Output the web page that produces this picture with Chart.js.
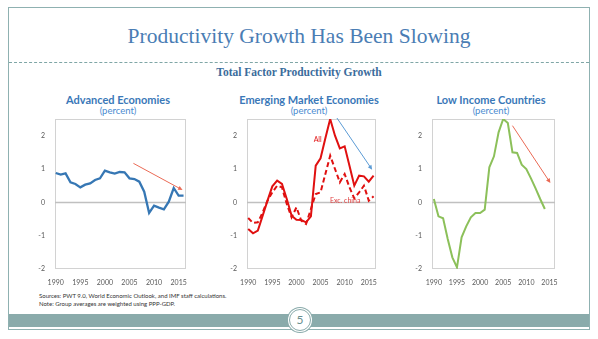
<!DOCTYPE html>
<html>
<head>
<meta charset="utf-8">
<script src="https://cdn.jsdelivr.net/npm/chart.js@4.4.1/dist/chart.umd.min.js"></script>
<style>
  html, body { margin: 0; padding: 0; background: #fff; }
  body { width: 598px; height: 339px; position: relative; overflow: hidden; font-family: Lato, 'Open Sans', sans-serif; }
  #frame { position: absolute; left: 8px; top: 7px; width: 582px; height: 323px; border: 1px solid #8fb1b1; box-sizing: border-box; }
  #title { position: absolute; left: 0; width: 598px; top: 23px; text-align: center; font-family: 'Liberation Serif', serif; font-size: 21.5px; color: #4a7db4; line-height: 26px; }
  #rule { position: absolute; left: 9px; width: 580px; top: 62px; border-top: 1px dashed #7fa6a6; }
  #subtitle { position: absolute; left: 0; width: 598px; top: 66px; text-align: center; font-family: 'Liberation Serif', serif; font-weight: bold; font-size: 11.5px; color: #3b6c9c; }
  .ptitle { position: absolute; width: 160px; text-align: center; top: 93px; font-weight: bold; font-size: 11px; color: #3a78b8; line-height: 13px; }
  .punit { position: absolute; width: 160px; text-align: center; top: 105px; font-size: 9.5px; color: #4a8bd0; line-height: 12px; }
  canvas { position: absolute; top: 115px; }
  #sources { position: absolute; left: 39px; top: 292px; font-size: 6px; color: #333; line-height: 7.5px; }
  #bar { position: absolute; left: 9px; width: 580px; top: 314px; height: 13px; background: #8aabab; }
  #page { position: absolute; left: 289px; top: 309px; width: 20px; height: 20px; border-radius: 50%; background: #fff; border: 1.5px solid #8aabab; box-shadow: 0 0 0 1px #fff, 0 0 0 2px #8aabab; text-align: center; line-height: 20px; font-size: 12px; color: #6a8f8f; }
</style>
</head>
<body>
<div id="frame"></div>
<div id="title">Productivity Growth Has Been Slowing</div>
<div id="rule"></div>
<div id="subtitle">Total Factor Productivity Growth</div>

<div class="ptitle" style="left:38px">Advanced Economies</div>
<div class="punit" style="left:38px">(percent)</div>
<div class="ptitle" style="left:229px">Emerging Market Economies</div>
<div class="punit" style="left:229px">(percent)</div>
<div class="ptitle" style="left:411px">Low Income Countries</div>
<div class="punit" style="left:411px">(percent)</div>

<canvas id="advChart" width="175" height="174" style="left:15px"></canvas>
<canvas id="emChart" width="173" height="174" style="left:207px"></canvas>
<canvas id="licChart" width="167" height="174" style="left:392px"></canvas>

<div id="sources">Sources: PWT 9.0, World Economic Outlook, and IMF staff calculations.<br>Note: Group averages are weighted using PPP-GDP.</div>
<div id="bar"></div>
<div id="page">5</div>

<script>
const years = [1990, 1991, 1992, 1993, 1994, 1995, 1996, 1997, 1998, 1999, 2000, 2001, 2002,
  2003, 2004, 2005, 2006, 2007, 2008, 2009, 2010, 2011, 2012, 2013, 2014, 2015, 2016];
const xTicks = [1990, 1995, 2000, 2005, 2010, 2015];
const yTicks = [-2, -1, 0, 1, 2];

const advanced = [0.88, 0.83, 0.87, 0.60, 0.55, 0.45, 0.53, 0.57, 0.67, 0.72, 0.95, 0.90, 0.86,
  0.91, 0.90, 0.72, 0.70, 0.62, 0.32, -0.32, -0.10, -0.16, -0.21, 0.02, 0.43, 0.20, 0.20];
const emAll = [-0.80, -0.93, -0.85, -0.40, 0.05, 0.48, 0.65, 0.55, 0.10, -0.40, -0.52, -0.53, -0.60,
  -0.42, 1.10, 1.32, 1.92, 2.50, 2.00, 1.62, 1.68, 1.10, 0.50, 0.80, 0.78, 0.62, 0.80];
const emExChina = [-0.47, -0.62, -0.60, -0.30, 0.05, 0.30, 0.50, 0.45, -0.05, -0.45, -0.15, -0.55, -0.65,
  -0.20, 0.25, 0.30, 0.85, 1.40, 1.00, 0.60, 0.85, 0.45, 0.12, 0.30, 0.50, 0.05, 0.18];
const lowIncome = [0.10, -0.42, -0.48, -1.10, -1.65, -1.95, -1.05, -0.72, -0.45, -0.32, -0.32, -0.22, 1.05,
  1.38, 2.10, 2.50, 2.38, 1.50, 1.48, 1.13, 1.00, 0.72, 0.42, 0.10, -0.20];

// trend arrows: [x0, y0, x1, y1] in data units
const advArrow = [2005.8, 1.17, 2015.8, 0.37];
const emArrow = [2008.4, 2.53, 2015.7, 0.98];
const licArrow = [2007.0, 2.30, 2015.2, 0.58];

function points(vals) {
  return vals.map((v, i) => ({ x: years[i], y: v }));
}

function drawArrow(ctx, x0, y0, x1, y1, color) {
  const ang = Math.atan2(y1 - y0, x1 - x0);
  ctx.strokeStyle = color;
  ctx.fillStyle = color;
  ctx.lineWidth = 1;
  ctx.beginPath();
  ctx.moveTo(x0, y0);
  ctx.lineTo(x1 - 3 * Math.cos(ang), y1 - 3 * Math.sin(ang));
  ctx.stroke();
  ctx.beginPath();
  ctx.moveTo(x1, y1);
  ctx.lineTo(x1 - 5 * Math.cos(ang - 0.45), y1 - 5 * Math.sin(ang - 0.45));
  ctx.lineTo(x1 - 5 * Math.cos(ang + 0.45), y1 - 5 * Math.sin(ang + 0.45));
  ctx.closePath();
  ctx.fill();
}

function makePanel(id, datasets, xRange, arrow, arrowColor, notes) {
  const ctx = document.getElementById(id).getContext('2d');
  if (!ctx) return;

  const decor = {
    id: 'decor',
    beforeDatasetsDraw(chart) {
      const { ctx, chartArea: a, scales: { y } } = chart;
      ctx.save();
      ctx.strokeStyle = '#d2d2d2';
      ctx.lineWidth = 1;
      ctx.strokeRect(a.left + 0.5, a.top + 0.5, a.right - a.left - 1, a.bottom - a.top - 1);
      const y0 = Math.round(y.getPixelForValue(0)) + 0.5;
      ctx.strokeStyle = '#c0c0c0';
      ctx.lineWidth = 1.5;
      ctx.beginPath();
      ctx.moveTo(a.left, y0);
      ctx.lineTo(a.right, y0);
      ctx.stroke();
      ctx.restore();
    },
    afterDatasetsDraw(chart) {
      const { ctx, scales: { x, y } } = chart;
      ctx.save();
      drawArrow(ctx,
        x.getPixelForValue(arrow[0]), y.getPixelForValue(arrow[1]),
        x.getPixelForValue(arrow[2]), y.getPixelForValue(arrow[3]), arrowColor);
      ctx.font = '7px Lato';
      ctx.textAlign = 'center';
      ctx.textBaseline = 'middle';
      (notes || []).forEach(n => {
        ctx.fillStyle = n.color;
        ctx.fillText(n.text, x.getPixelForValue(n.x), y.getPixelForValue(n.y));
      });
      ctx.restore();
    }
  };

  return new Chart(ctx, {
    type: 'line',
    data: { datasets },
    options: {
      responsive: false,
      animation: false,
      devicePixelRatio: 1,
      layout: { padding: { top: 4, right: 4, left: 0, bottom: 0 } },
      elements: { point: { radius: 0 }, line: { tension: 0 } },
      plugins: { legend: { display: false }, tooltip: { enabled: false } },
      scales: {
        x: {
          type: 'linear',
          min: xRange[0],
          max: xRange[1],
          afterBuildTicks: s => { s.ticks = xTicks.map(v => ({ value: v })); },
          afterFit: s => { s.height = 20; s.paddingLeft = 0; s.paddingRight = 0; },
          grid: { display: false, drawTicks: false },
          border: { display: false },
          ticks: {
            padding: 10, maxRotation: 0, autoSkip: false, color: '#595959',
            font: { size: 7, family: 'Lato' },
            callback: v => String(v)
          }
        },
        y: {
          min: -2,
          max: 2.5,
          afterBuildTicks: s => { s.ticks = yTicks.map(v => ({ value: v })); },
          afterFit: s => { s.width = 40; s.paddingTop = 0; s.paddingBottom = 0; },
          grid: { display: false, drawTicks: false },
          border: { display: false },
          ticks: { padding: 10, color: '#595959', font: { size: 7, family: 'Lato' } }
        }
      }
    },
    plugins: [decor]
  });
}

makePanel('advChart', [{
  data: points(advanced), borderColor: '#3677b4', borderWidth: 2.3
}], [1989.85, 2016.5], advArrow, '#ea6a55');

makePanel('emChart', [{
  data: points(emAll), borderColor: '#e01010', borderWidth: 2
}, {
  data: points(emExChina), borderColor: '#e01010', borderWidth: 2, borderDash: [5, 3]
}], [1989.75, 2016.5], emArrow, '#5b9bd5', [
  { text: 'All', x: 2004.4, y: 1.88, color: '#e01010' },
  { text: 'Exc. china', x: 2010.1, y: 0.06, color: '#e04040' }
]);

makePanel('licChart', [{
  data: points(lowIncome), borderColor: '#8cc05a', borderWidth: 2
}], [1989.6, 2016.2], licArrow, '#ea6a55');
</script>
</body>
</html>
